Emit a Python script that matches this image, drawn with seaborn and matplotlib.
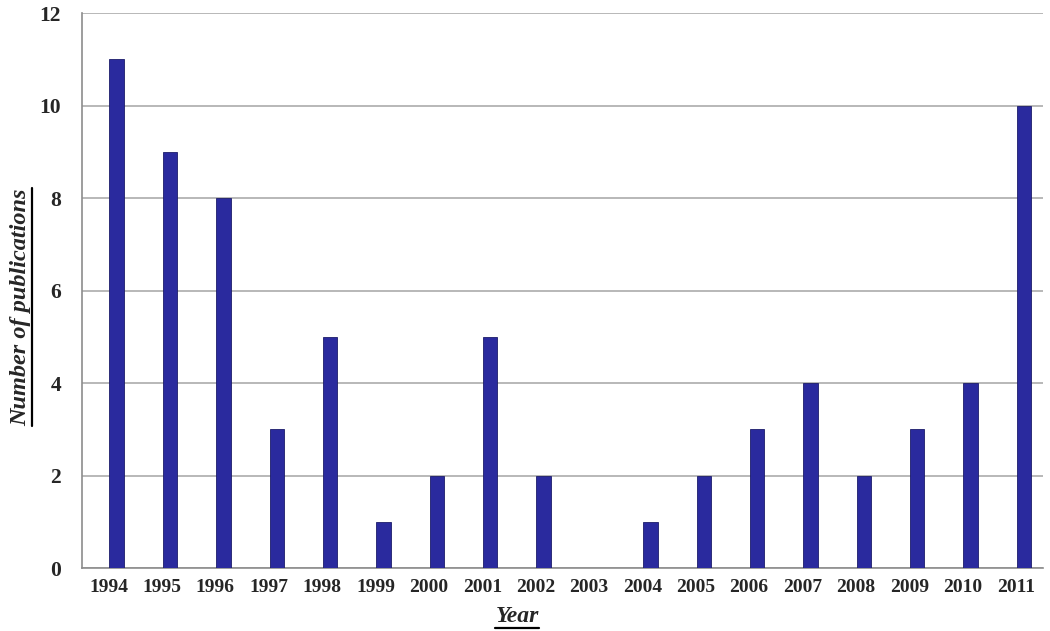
import matplotlib
matplotlib.use("Agg")
import matplotlib.pyplot as plt
from matplotlib.lines import Line2D
import seaborn as sns
import pandas as pd
import numpy as np

# Data
years = ["1994", "1995", "1996", "1997", "1998", "1999", "2000", "2001", "2002",
         "2003", "2004", "2005", "2006", "2007", "2008", "2009", "2010", "2011"]
publications = [11, 9, 8, 3, 5, 1, 2, 5, 2, 0, 1, 2, 3, 4, 2, 3, 4, 10]

df = pd.DataFrame({"year": years, "count": publications})

sns.set_style("white")
plt.rcParams['font.family'] = ['Liberation Serif', 'DejaVu Serif']

fig = plt.figure(figsize=(10.5, 6.31), dpi=100)
ax = fig.add_axes([0.078, 0.0998, 0.915, 0.8795])

sns.barplot(data=df, x="year", y="count", color="#2a2a9e", width=0.27,
            edgecolor="#1c1c6a", linewidth=0.6, saturation=1, ax=ax, zorder=3)

# Excel-style bars sit a bit right of the category centre
for p in ax.patches:
    p.set_x(p.get_x() + 0.15)

ax.set_xlim(-0.5, len(years) - 0.5)
ax.set_ylim(0, 12)
ax.set_yticks(np.arange(0, 13, 2))
ax.yaxis.grid(True, color="#ababab", linewidth=1.2, zorder=0)

ax.set_xticks(np.arange(-0.5, len(years), 1.0), minor=True)
ax.tick_params(axis="x", which="major", length=0, pad=8, labelsize=14)
ax.tick_params(axis="x", which="minor", length=5, width=1, color="#8c8c8c", direction="out")
ax.tick_params(axis="y", length=6, width=1, color="#8c8c8c", direction="out", pad=9, labelsize=15.5)
for lab in ax.get_xticklabels() + ax.get_yticklabels():
    lab.set_fontweight("bold")

for s in ["top", "right"]:
    ax.spines[s].set_visible(False)
for s in ["left", "bottom"]:
    ax.spines[s].set_color("#8c8c8c")
    ax.spines[s].set_linewidth(1.2)

ax.set_xlabel("Year", fontsize=17, fontweight="bold", fontstyle="italic")
ax.set_ylabel("Number of publications", fontsize=17.5, fontweight="bold", fontstyle="italic")
ax.xaxis.set_label_coords(0.453, -0.068)
ax.yaxis.set_label_coords(-0.053, 0.47)

# underline the axis titles
fig.canvas.draw()
r = fig.canvas.get_renderer()
W, H = fig.get_size_inches() * fig.dpi
bb = ax.xaxis.label.get_window_extent(r)
y0 = (bb.y0 - 1) / H
fig.add_artist(Line2D([bb.x0 / W, bb.x1 / W], [y0, y0], color="black", lw=1.6, transform=fig.transFigure))
bb = ax.yaxis.label.get_window_extent(r)
x0 = (bb.x1 + 1) / W
fig.add_artist(Line2D([x0, x0], [bb.y0 / H, bb.y1 / H], color="black", lw=1.6, transform=fig.transFigure))

fig.savefig("out.png", dpi=100)
